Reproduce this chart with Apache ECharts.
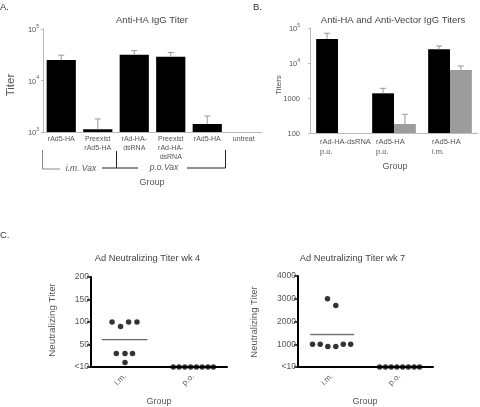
<!DOCTYPE html>
<html><head><meta charset="utf-8">
<script src="https://cdn.jsdelivr.net/npm/echarts@6/dist/echarts.min.js"></script>
<style>html,body{margin:0;padding:0;background:#fff}#c{width:480px;height:407px}</style>
</head><body><div id="c"></div>
<script>
const FONT = "'Liberation Sans', Arial, Helvetica, sans-serif";

// ---- Panel A: Anti-HA IgG Titer ----
const catsA = ['rAd5-HA', 'Preexist\nrAd5-HA', 'rAd-HA-\ndsRNA', 'Preexist\nrAd-HA-\ndsRNA', 'rAd5-HA', 'untreat'];
const titerA = [25000, 1130, 31500, 29000, 1430, null];
const titerAErr = [31000, 1790, 38000, 35000, 2040, null];

// ---- Panel B: Anti-HA and Anti-Vector IgG Titers ----
const catsB = ['rAd-HA-dsRNA\np.o.', 'rAd5-HA\np.o.', 'rAd5-HA\ni.m.'];
const antiHA = [48500, 1360, 24600];
const antiHAErr = [70700, 1890, 30600];
const antiVector = [null, 181, 6300];
const antiVectorErr = [null, 342, 8200];

// ---- Panel C: Ad Neutralizing Titer ----
const groupsC = ['i.m.', 'p.o.'];
const wk4IM = [100, 90, 100, 100, 30, 30, 30, 10];
const wk4IMJitter = [-0.19, -0.065, 0.053, 0.176, -0.128, 0, 0.11, 0];
const wk4PO = [0, 0, 0, 0, 0, 0, 0, 0];
const wk4Mean = 61;
const wk7IM = [3000, 2700, 1000, 1000, 900, 900, 1000, 1000];
const wk7IMJitter = [-0.063, 0.06, -0.285, -0.171, -0.058, 0.06, 0.171, 0.28];
const wk7PO = [0, 0, 0, 0, 0, 0, 0, 0];
const wk7Mean = 1430;
const poJitter = [-0.29, -0.205, -0.12, -0.035, 0.05, 0.135, 0.22, 0.30];

const chart = echarts.init(document.getElementById('c'), null, { renderer: 'canvas' });

const supRich = {
  n: { fontSize: 7.5, color: '#555', fontFamily: FONT, lineHeight: 10, verticalAlign: 'bottom' },
  s: { fontSize: 5, color: '#555', fontFamily: FONT, lineHeight: 10, verticalAlign: 'top' }
};
function supA(v) { return '{n|10}{s|' + Math.round(Math.log10(v)) + '}'; }
function supB(v) { const e = Math.round(Math.log10(v)); return e >= 4 ? '{n|10}{s|' + e + '}' : '{n|' + v + '}'; }

function errRenderer(offsetFrac, color) {
  return function (params, api) {
    const x = api.value(0), lo = api.value(1), hi = api.value(2);
    const base = api.coord([x, lo]);
    const top = api.coord([x, hi]);
    const cw = api.size([1, 1])[0];
    const cx = base[0] + offsetFrac * cw;
    const cap = 3;
    return {
      type: 'group', children: [
        { type: 'line', shape: { x1: cx, y1: base[1], x2: cx, y2: top[1] }, style: { stroke: color, lineWidth: 1 } },
        { type: 'line', shape: { x1: cx - cap, y1: top[1], x2: cx + cap, y2: top[1] }, style: { stroke: color, lineWidth: 1 } }
      ]
    };
  };
}
function errData(vals, errs) {
  const out = [];
  vals.forEach((v, i) => { if (v != null && errs[i] != null) out.push([i, v, errs[i]]); });
  return out;
}

const lightAxis = { lineStyle: { color: '#bbb', width: 1 } };

function stripAxes(gridIndex, max, interval) {
  return {
    x: [
      { gridIndex, type: 'category', data: groupsC, boundaryGap: true,
        axisLine: { lineStyle: { color: '#000', width: 2 } },
        axisTick: { alignWithLabel: true, length: 5, lineStyle: { color: '#000', width: 1.5 } },
        axisLabel: { rotate: 45, fontSize: 8, color: '#555', fontFamily: FONT, margin: 8 } },
      { gridIndex, type: 'value', min: 0, max: 2, show: false }
    ],
    y: { gridIndex, type: 'value', min: 0, max, interval,
      axisLine: { show: true, lineStyle: { color: '#000', width: 2 } },
      axisTick: { show: true, length: 4, lineStyle: { color: '#000', width: 1.5 } },
      splitLine: { show: false },
      axisLabel: { fontSize: 8.5, color: '#555', fontFamily: FONT, margin: 2, formatter: v => v === 0 ? '<10' : String(v) } }
  };
}
const c1 = stripAxes(2, 200, 50);
const c2 = stripAxes(3, 4000, 1000);

function txt(text, x, y, size, opts) {
  opts = opts || {};
  return {
    type: 'text', x, y, rotation: opts.rot || 0, silent: true,
    style: { text, fill: opts.color || '#444', font: (opts.italic ? 'italic ' : '') + size + 'px ' + FONT,
      align: opts.align || 'center', verticalAlign: 'middle' }
  };
}
function pl(points, color, w) {
  return { type: 'polyline', silent: true, shape: { points }, style: { stroke: color, lineWidth: w || 1, fill: null } };
}

const option = {
  animation: false,
  backgroundColor: '#fff',
  grid: [
    { left: 43, top: 29, width: 219, height: 103 },
    { left: 310, top: 28, width: 168, height: 105 },
    { left: 91, top: 277, width: 136, height: 90 },
    { left: 298, top: 276, width: 135, height: 91 }
  ],
  xAxis: [
    { gridIndex: 0, type: 'category', data: catsA, axisLine: lightAxis,
      axisTick: { inside: true, length: 6, lineStyle: { color: '#bbb' } },
      axisLabel: { interval: 0, margin: 3, fontSize: 7, lineHeight: 9, color: '#555', fontFamily: FONT } },
    { gridIndex: 1, type: 'category', data: catsB, axisLine: lightAxis,
      axisTick: { inside: true, length: 6, lineStyle: { color: '#bbb' } },
      axisLabel: { interval: 0, hideOverlap: false, margin: 4, color: '#555',
        formatter: v => v.split('\n').map(s => '{l|' + s + '}').join('\n'),
        rich: { l: { width: 42, padding: [0, 0, 0, 6], align: 'left', fontSize: 7.5, color: '#555', fontFamily: FONT, lineHeight: 10 } } } },
    c1.x[0], c1.x[1], c2.x[0], c2.x[1]
  ],
  yAxis: [
    { gridIndex: 0, type: 'log', logBase: 10, min: 1000, max: 100000, axisLine: { show: true, lineStyle: { color: '#bbb' } },
      axisTick: { show: true, length: 2, lineStyle: { color: '#bbb' } }, splitLine: { show: false }, minorTick: { show: false },
      axisLabel: { formatter: supA, rich: supRich, margin: 4 } },
    { gridIndex: 1, type: 'log', logBase: 10, min: 100, max: 100000, axisLine: { show: true, lineStyle: { color: '#bbb' } },
      axisTick: { show: true, length: 2, lineStyle: { color: '#bbb' } }, splitLine: { show: false }, minorTick: { show: false },
      axisLabel: { formatter: supB, rich: supRich, margin: 10 } },
    c1.y, c2.y
  ],
  series: [
    { type: 'bar', xAxisIndex: 0, yAxisIndex: 0, data: titerA, barCategoryGap: '20%',
      itemStyle: { color: '#000' } },
    { type: 'custom', xAxisIndex: 0, yAxisIndex: 0, renderItem: errRenderer(0, '#999'),
      encode: { x: 0, y: 2 }, data: errData(titerA, titerAErr), z: 3 },
    { type: 'bar', xAxisIndex: 1, yAxisIndex: 1, data: antiHA, barGap: '0%', barCategoryGap: '22%',
      itemStyle: { color: '#000' } },
    { type: 'bar', xAxisIndex: 1, yAxisIndex: 1, data: antiVector, barGap: '0%', barCategoryGap: '22%',
      itemStyle: { color: '#9c9c9c' } },
    { type: 'custom', xAxisIndex: 1, yAxisIndex: 1, renderItem: errRenderer(-0.195, '#999'),
      encode: { x: 0, y: 2 }, data: errData(antiHA, antiHAErr), z: 3 },
    { type: 'custom', xAxisIndex: 1, yAxisIndex: 1, renderItem: errRenderer(0.195, '#999'),
      encode: { x: 0, y: 2 }, data: errData(antiVector, antiVectorErr), z: 3 },
    // panel C wk4
    { type: 'line', xAxisIndex: 3, yAxisIndex: 2, data: [[0.16, wk4Mean], [0.83, wk4Mean]], symbol: 'none',
      lineStyle: { color: '#666', width: 1.3 }, z: 2 },
    { type: 'scatter', xAxisIndex: 3, yAxisIndex: 2, symbolSize: 5.5, itemStyle: { color: '#000' }, z: 4,
      data: wk4IM.map((v, i) => [0.5 + wk4IMJitter[i], v]) },
    { type: 'scatter', xAxisIndex: 3, yAxisIndex: 2, symbolSize: 5.5, itemStyle: { color: '#000' }, z: 4, clip: false,
      data: wk4PO.map((v, i) => [1.5 + poJitter[i], v]) },
    // panel C wk7
    { type: 'line', xAxisIndex: 5, yAxisIndex: 3, data: [[0.18, wk7Mean], [0.83, wk7Mean]], symbol: 'none',
      lineStyle: { color: '#777', width: 1.5 }, z: 2 },
    { type: 'scatter', xAxisIndex: 5, yAxisIndex: 3, symbolSize: 5.5, itemStyle: { color: '#000' }, z: 4,
      data: wk7IM.map((v, i) => [0.5 + wk7IMJitter[i], v]) },
    { type: 'scatter', xAxisIndex: 5, yAxisIndex: 3, symbolSize: 5.5, itemStyle: { color: '#000' }, z: 4, clip: false,
      data: wk7PO.map((v, i) => [1.5 + poJitter[i], v]) }
  ],
  graphic: [
    txt('A.', 0, 7, 9.5, { align: 'left', color: '#333' }),
    txt('B.', 253, 7, 9.5, { align: 'left', color: '#333' }),
    txt('C.', 0, 235, 9.5, { align: 'left', color: '#333' }),
    txt('Anti-HA IgG Titer', 152, 20, 9.5),
    txt('Anti-HA and Anti-Vector IgG Titers', 393, 20.5, 9.5),
    txt('Ad Neutralizing Titer wk 4', 147.5, 258.5, 9.3),
    txt('Ad Neutralizing Titer wk 7', 352.5, 258.5, 9.3),
    txt('Titer', 11, 85, 11.5, { rot: Math.PI / 2, color: '#555' }),
    txt('Titers', 279, 85, 8, { rot: Math.PI / 2, color: '#555' }),
    txt('Neutralizing Titer', 52, 320, 9.8, { rot: Math.PI / 2, color: '#555' }),
    txt('Neutralizing Titer', 254, 322, 9.5, { rot: Math.PI / 2, color: '#555' }),
    txt('Group', 152, 183, 9, { color: '#555' }),
    txt('Group', 395, 166.5, 9, { color: '#555' }),
    txt('Group', 159, 402, 9, { color: '#555' }),
    txt('Group', 365, 402, 9, { color: '#555' }),
    pl([[42.5, 150], [42.5, 169], [60, 169]], '#888'),
    txt('i.m. Vax', 81, 169, 8.5, { italic: true, color: '#555' }),
    pl([[102, 168], [138, 168]], '#222'),
    pl([[116.5, 151], [116.5, 168]], '#222'),
    txt('p.o.Vax', 164, 168, 8.5, { italic: true, color: '#555' }),
    pl([[187, 168], [225.5, 168], [225.5, 150]], '#222')
  ]
};
chart.setOption(option);
</script>
</body></html>
